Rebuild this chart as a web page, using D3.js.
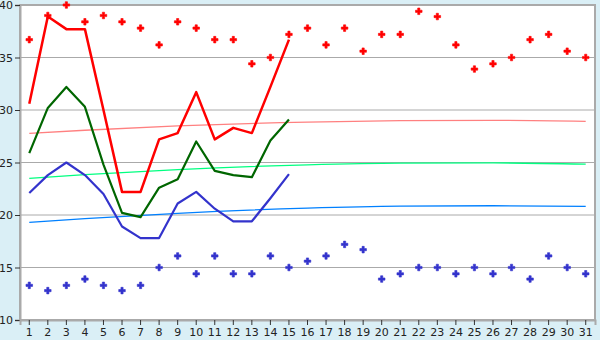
<!DOCTYPE html>
<html>
<head>
<meta charset="utf-8">
<script src="https://cdn.jsdelivr.net/npm/d3@7"></script>
<style>
  body { margin: 0; background: #daeff6; }
  svg { display: block; }
  .tick text { font-family: "DejaVu Sans", Verdana, sans-serif; font-size: 11px; fill: #222; }
</style>
</head>
<body>
<div id="chart"></div>
<script>
// days of the month
var days = d3.range(1, 32);
var yTicks = [10, 15, 20, 25, 30, 35, 40];

// record high / record low per day (markers)
var recordMax = [36.7, 39.0, 40.0, 38.4, 39.0, 38.4, 37.8, 36.2, 38.4, 37.8, 36.7, 36.7, 34.4, 35.0, 37.2, 37.8,
                 36.2, 37.8, 35.6, 37.2, 37.2, 39.4, 38.9, 36.2, 33.9, 34.4, 35.0, 36.7, 37.2, 35.6, 35.0];
var recordMin = [13.3, 12.8, 13.3, 13.9, 13.3, 12.8, 13.3, 15.0, 16.1, 14.4, 16.1, 14.4, 14.4, 16.1, 15.0, 15.6,
                 16.1, 17.2, 16.7, 13.9, 14.4, 15.0, 15.0, 14.4, 15.0, 14.4, 15.0, 13.9, 16.1, 15.0, 14.4];

// observed values, days 1 - 15
var dailyMax  = [30.6, 38.9, 37.7, 37.7, 30.0, 22.2, 22.2, 27.2, 27.8, 31.7, 27.2, 28.3, 27.8, 32.2, 36.7];
var dailyMean = [25.9, 30.2, 32.2, 30.3, 24.8, 20.2, 19.8, 22.6, 23.4, 27.0, 24.2, 23.8, 23.6, 27.1, 29.1];
var dailyMin  = [22.1, 23.8, 25.0, 23.8, 22.0, 18.9, 17.8, 17.8, 21.1, 22.2, 20.6, 19.4, 19.4, 21.6, 23.9];

// normal (trend) curves, read at a few days
var trendDays  = [1, 4, 9, 16, 21, 26, 31];
var normalMax  = [27.78, 28.07, 28.48, 28.85, 28.98, 29.01, 28.92];
var normalMean = [23.49, 23.85, 24.33, 24.78, 24.94, 24.96, 24.84];
var normalMin  = [19.30, 19.66, 20.16, 20.65, 20.84, 20.88, 20.83];

var width = 600, height = 340;
var margin = {top: 5, right: 5, bottom: 20, left: 20};

var svg = d3.select("#chart").append("svg").attr("width", width).attr("height", height);

var x = d3.scaleBand().domain(days).range([margin.left, width - margin.right]);
var y = d3.scaleLinear().domain([10, 40]).range([height - margin.bottom, margin.top]);
var cx = function(d) { return x(d) + x.bandwidth() / 2; };

// plot area
svg.append("rect").attr("x", margin.left).attr("y", margin.top)
  .attr("width", width - margin.left - margin.right).attr("height", height - margin.top - margin.bottom)
  .style("fill", "#fff").style("stroke", "#aaa").style("stroke-width", 2);

// grid
svg.append("g").selectAll("line").data(yTicks.slice(1, -1)).enter().append("line")
  .attr("x1", margin.left).attr("x2", width - margin.right)
  .attr("y1", function(d) { return y(d); }).attr("y2", function(d) { return y(d); })
  .style("stroke", "#aaa").style("stroke-width", 1);

// axes
var yAxis = svg.append("g").attr("transform", "translate(" + margin.left + ",0)")
  .call(d3.axisLeft(y).tickValues(yTicks).tickSize(5).tickPadding(2));
var xAxis = svg.append("g").attr("transform", "translate(0," + (height - margin.bottom) + ")")
  .call(d3.axisBottom(x).tickSize(5).tickPadding(3));
[yAxis, xAxis].forEach(function(g) {
  g.select(".domain").style("stroke", "#aaa").style("stroke-width", 2);
  g.selectAll(".tick line").style("stroke", "#333");
});

// trend curves
function trend(vals, color) {
  var pts = trendDays.map(function(d, i) { return [cx(d), y(vals[i])]; });
  svg.append("path").attr("d", d3.line().curve(d3.curveMonotoneX)(pts))
    .style("fill", "none").style("stroke", color).style("stroke-width", 1.3);
}
trend(normalMax, "#ff8080");
trend(normalMean, "#00ff80");
trend(normalMin, "#0080ff");

// observed lines
function series(vals, color, w) {
  var line = d3.line().x(function(d, i) { return cx(days[i]); }).y(function(d) { return y(d); });
  svg.append("path").datum(vals).attr("d", line)
    .style("fill", "none").style("stroke", color).style("stroke-width", w).style("stroke-linejoin", "round");
}
series(dailyMin, "#3333cc", 2.2);
series(dailyMean, "#006600", 2.2);
series(dailyMax, "#ff0000", 2.5);

// record markers
function markers(vals, color) {
  svg.append("g").selectAll("path").data(vals).enter().append("path")
    .attr("transform", function(d, i) { return "translate(" + cx(days[i]) + "," + y(d) + ")"; })
    .attr("d", d3.symbol().type(d3.symbolCross).size(24))
    .style("fill", color).style("stroke", color).style("stroke-width", 0.6);
}
markers(recordMax, "#ff0000");
markers(recordMin, "#3333cc");
</script>
</body>
</html>
